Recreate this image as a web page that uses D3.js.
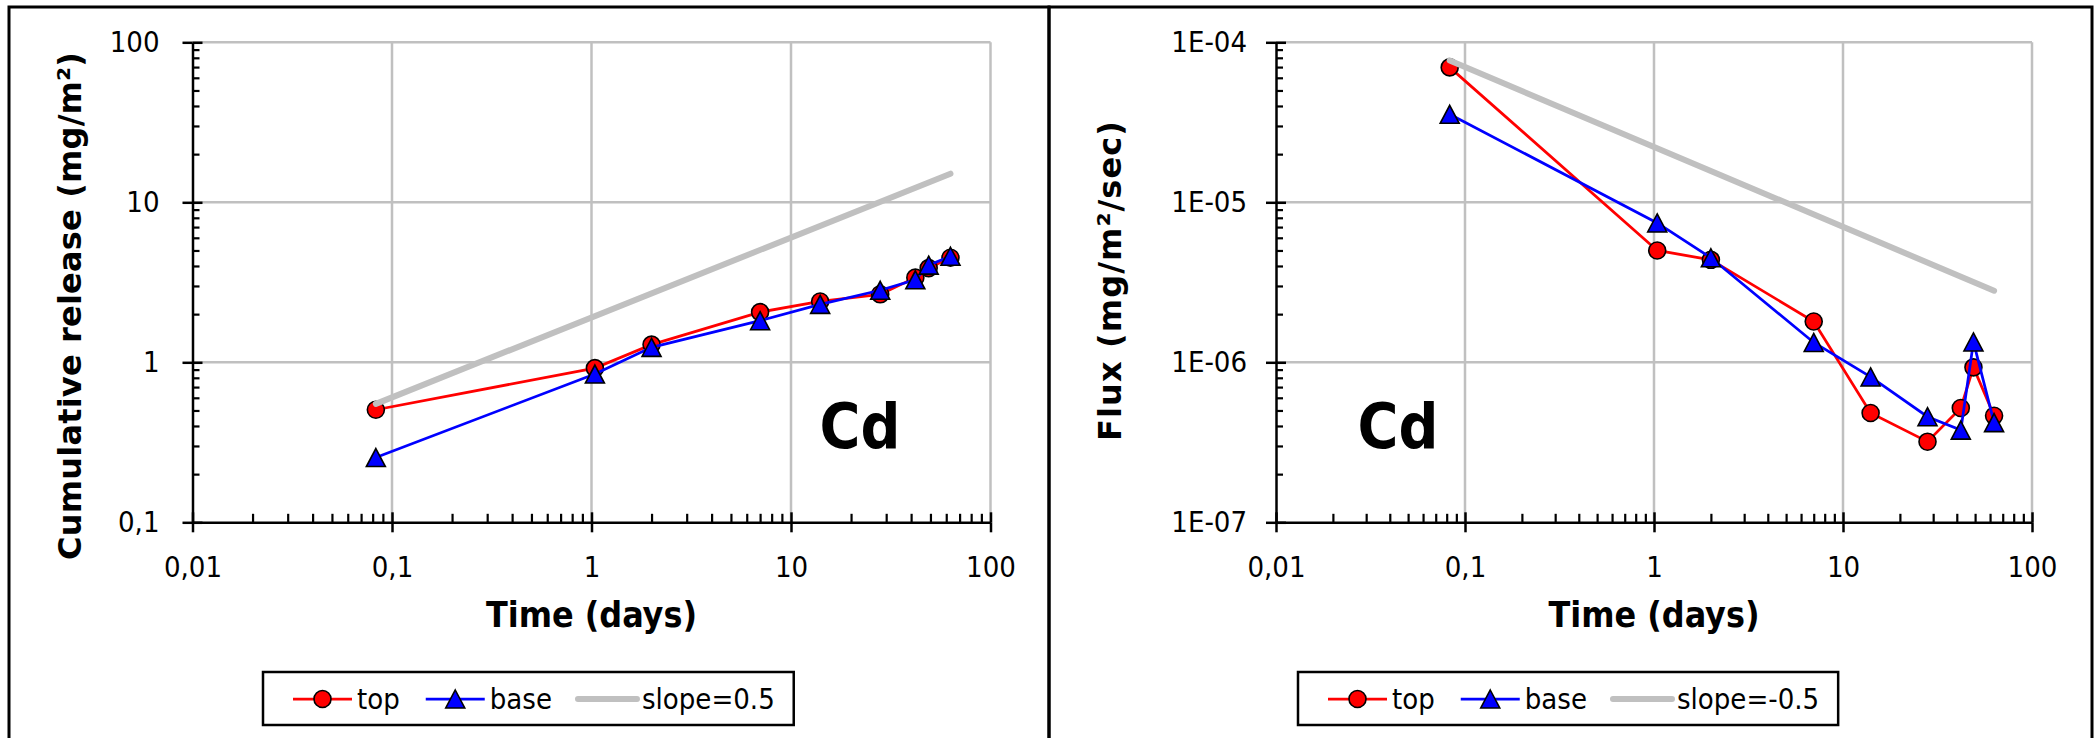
<!DOCTYPE html>
<html><head><meta charset="utf-8">
<script src="https://cdn.jsdelivr.net/npm/d3@7"></script>
<style>
html,body{margin:0;padding:0;background:#fff;overflow:hidden}
svg{display:block}
.cond{font-family:'DejaVu Sans Condensed','DejaVu Sans',sans-serif;font-stretch:condensed}
.wide{font-family:'DejaVu Sans',Verdana,sans-serif}
</style></head><body>
<svg id="chart" width="2098" height="738"></svg>
<script>
// ---------------- data ----------------
const days = [0.083, 1.04, 2, 7, 14, 28, 42, 49, 63];
const cumTop = [0.505, 0.92, 1.29, 2.06, 2.40, 2.66, 3.38, 3.88, 4.50];
const cumBase = [0.254, 0.845, 1.24, 1.82, 2.30, 2.82, 3.28, 4.05, 4.60];
const slopeDays = [0.083, 63];
const cumSlope = [0.55, 15.1];
const fluxTop = [6.97e-5, 5.0e-6, 4.37e-6, 1.80e-6, 4.82e-7, 3.19e-7, 5.18e-7, 9.3e-7, 4.63e-7];
const fluxBase = [3.55e-5, 7.43e-6, 4.5e-6, 1.33e-6, 8.1e-7, 4.57e-7, 3.77e-7, 1.34e-6, 4.2e-7];
const fluxSlope = [7.7e-5, 2.8e-6];
const xTickValues = [0.01, 0.1, 1, 10, 100];
const xTickLabels = ["0,01", "0,1", "1", "10", "100"];
const cumTickValues = [0.1, 1, 10, 100];
const cumTickLabels = ["0,1", "1", "10", "100"];
const fluxTickValues = [1e-7, 1e-6, 1e-5, 1e-4];
const fluxTickLabels = ["1E-07", "1E-06", "1E-05", "1E-04"];
const seriesNames = ["top", "base"];
const cumSlopeName = "slope=0.5";
const fluxSlopeName = "slope=-0.5";
const elementLabel = "Cd";
const xTitle = "Time (days)";
const cumTitle = "Cumulative release (mg/m\u00b2)";
const fluxTitle = "Flux (mg/m\u00b2/sec)";

// ---------------- drawing ----------------
const svg = d3.select("#chart");
svg.append("rect").attr("width", 2098).attr("height", 738).attr("fill", "#fff");

// panel borders
svg.append("rect").attr("x", 9).attr("y", 7).attr("width", 1040).attr("height", 780)
  .attr("fill", "none").attr("stroke", "#000").attr("stroke-width", 3);
svg.append("rect").attr("x", 1049).attr("y", 7).attr("width", 1043).attr("height", 780)
  .attr("fill", "none").attr("stroke", "#000").attr("stroke-width", 3);

function minorTicks(dom) {
  const out = [];
  const lo = Math.round(Math.log10(dom[0])), hi = Math.round(Math.log10(dom[1]));
  for (let e = lo; e < hi; e++) for (let k = 2; k <= 9; k++) out.push(k * Math.pow(10, e));
  return out;
}

function triPath(w, h) {
  return `M0,${-h / 2}L${w / 2},${h / 2}L${-w / 2},${h / 2}Z`;
}

function drawPanel(p) {
  const g = svg.append("g");
  const x = d3.scaleLog().domain([xTickValues[0], xTickValues[xTickValues.length - 1]]).range([p.x0, p.x1]);
  const y = d3.scaleLog().domain([p.yTicks[0], p.yTicks[p.yTicks.length - 1]]).range([p.y1, p.y0]);

  // gridlines
  g.append("g").selectAll("line").data(xTickValues.slice(1)).join("line")
    .attr("x1", d => x(d)).attr("x2", d => x(d)).attr("y1", p.y0).attr("y2", p.y1)
    .attr("stroke", "#c0c0c0").attr("stroke-width", 2.5);
  g.append("g").selectAll("line").data(p.yTicks.slice(1)).join("line")
    .attr("y1", d => y(d)).attr("y2", d => y(d)).attr("x1", p.x0).attr("x2", p.x1)
    .attr("stroke", "#c0c0c0").attr("stroke-width", 2.5);

  const styleAxis = (sel, sw) => {
    sel.selectAll("line").attr("stroke", "#000").attr("stroke-width", sw);
    sel.selectAll("path.domain").attr("stroke", "#000").attr("stroke-width", 2.5);
  };

  // y axis
  const yMajor = g.append("g").attr("transform", `translate(${p.x0},0)`)
    .call(d3.axisLeft(y).tickValues(p.yTicks).tickFormat((d, i) => p.yLabels[i])
      .tickSize(10).tickSizeOuter(0).tickPadding(p.yPad));
  styleAxis(yMajor, 2.5);
  yMajor.selectAll("text").attr("class", "cond").style("font-size", "29px").attr("fill", "#000");
  const yIn = g.append("g").attr("transform", `translate(${p.x0},0)`)
    .call(d3.axisRight(y).tickValues(p.yTicks).tickFormat("").tickSize(10).tickSizeOuter(0));
  yIn.select(".domain").remove(); styleAxis(yIn, 2.5);
  const yMin = g.append("g").attr("transform", `translate(${p.x0},0)`)
    .call(d3.axisRight(y).tickValues(minorTicks(y.domain())).tickFormat("").tickSize(7).tickSizeOuter(0));
  yMin.select(".domain").remove(); styleAxis(yMin, 2.2);

  // x axis
  const xMajor = g.append("g").attr("transform", `translate(0,${p.y1})`)
    .call(d3.axisBottom(x).tickValues(xTickValues).tickFormat((d, i) => xTickLabels[i])
      .tickSize(10).tickSizeOuter(0).tickPadding(24));
  styleAxis(xMajor, 2.5);
  xMajor.selectAll("text").attr("class", "cond").style("font-size", "29px").attr("fill", "#000");
  const xIn = g.append("g").attr("transform", `translate(0,${p.y1})`)
    .call(d3.axisTop(x).tickValues(xTickValues).tickFormat("").tickSize(10).tickSizeOuter(0));
  xIn.select(".domain").remove(); styleAxis(xIn, 2.5);
  const xMin = g.append("g").attr("transform", `translate(0,${p.y1})`)
    .call(d3.axisTop(x).tickValues(minorTicks(x.domain())).tickFormat("").tickSize(8.5).tickSizeOuter(0));
  xMin.select(".domain").remove(); styleAxis(xMin, 2.2);

  // series
  const line = d3.line().x(d => x(d[0])).y(d => y(d[1]));
  const topPts = days.map((d, i) => [d, p.top[i]]);
  const basePts = days.map((d, i) => [d, p.base[i]]);
  g.append("path").attr("d", line(topPts)).attr("fill", "none").attr("stroke", "#ff0000").attr("stroke-width", 2.75);
  g.append("g").selectAll("circle").data(topPts).join("circle")
    .attr("cx", d => x(d[0])).attr("cy", d => y(d[1])).attr("r", 8.5)
    .attr("fill", "#ff0000").attr("stroke", "#000").attr("stroke-width", 1.6);
  g.append("path").attr("d", line(basePts)).attr("fill", "none").attr("stroke", "#0000ff").attr("stroke-width", 2.75);
  g.append("g").selectAll("path").data(basePts).join("path")
    .attr("d", triPath(19, 18)).attr("transform", d => `translate(${x(d[0])},${y(d[1])})`)
    .attr("fill", "#0000ff").attr("stroke", "#000").attr("stroke-width", 1.6).attr("stroke-linejoin", "miter");
  const slopePts = slopeDays.map((d, i) => [d, p.slope[i]]);
  g.append("path").attr("d", line(slopePts)).attr("fill", "none").attr("stroke", "#c0c0c0")
    .attr("stroke-width", 6).attr("stroke-linecap", "round");

  // element label
  g.append("text").attr("class", "cond").attr("x", p.cdX).attr("y", 448).attr("text-anchor", "middle")
    .style("font-size", "62px").style("font-weight", "bold").text(elementLabel);

  // axis titles
  g.append("text").attr("class", "cond").attr("x", (p.x0 + p.x1) / 2).attr("y", 627).attr("text-anchor", "middle")
    .style("font-size", "35.5px").style("font-weight", "bold").text(xTitle);
  const yt = g.append("text").attr("class", "wide").attr("transform", `translate(${p.ytX},${p.ytY}) rotate(-90)`)
    .attr("text-anchor", "middle").style("font-size", "32px").style("font-weight", "bold").text(p.yTitle);
  const natural = yt.node().getComputedTextLength();
  const ls = (p.ytLen - natural) / p.yTitle.length;
  yt.style("letter-spacing", ls + "px").attr("x", ls / 2);

  // legend
  const lg = g.append("g").attr("transform", `translate(${p.legX},672)`);
  const box = lg.append("rect").attr("x", 0).attr("y", 0).attr("height", 53)
    .attr("fill", "#fff").attr("stroke", "#000").attr("stroke-width", 2.5);
  let cx = 30;
  const items = [
    { name: seriesNames[0], color: "#ff0000", w: 2.75, mk: "circle" },
    { name: seriesNames[1], color: "#0000ff", w: 2.75, mk: "tri" },
    { name: p.slopeName, color: "#c0c0c0", w: 6, mk: null }
  ];
  items.forEach(it => {
    lg.append("line").attr("x1", cx).attr("x2", cx + 59).attr("y1", 27).attr("y2", 27)
      .attr("stroke", it.color).attr("stroke-width", it.w).attr("stroke-linecap", it.mk ? "butt" : "round");
    if (it.mk === "circle") lg.append("circle").attr("cx", cx + 29.5).attr("cy", 27).attr("r", 8.5)
      .attr("fill", "#ff0000").attr("stroke", "#000").attr("stroke-width", 1.6);
    if (it.mk === "tri") lg.append("path").attr("d", triPath(19, 18)).attr("transform", `translate(${cx + 29.5},27)`)
      .attr("fill", "#0000ff").attr("stroke", "#000").attr("stroke-width", 1.6);
    const t = lg.append("text").attr("class", "cond").attr("x", cx + 64).attr("y", 37)
      .style("font-size", "29px").text(it.name);
    cx = cx + 64 + t.node().getComputedTextLength() + 26;
  });
  box.attr("width", cx - 26 + 19);
}

drawPanel({
  x0: 192.5, x1: 990.5, y0: 42.3, y1: 522.3,
  yTicks: cumTickValues, yLabels: cumTickLabels, yPad: 23,
  top: cumTop, base: cumBase, slope: cumSlope, slopeName: cumSlopeName,
  cdX: 860, ytX: 81, ytY: 306, ytLen: 508, yTitle: cumTitle, legX: 263
});
drawPanel({
  x0: 1276, x1: 2032, y0: 42.3, y1: 522.3,
  yTicks: fluxTickValues, yLabels: fluxTickLabels, yPad: 19,
  top: fluxTop, base: fluxBase, slope: fluxSlope, slopeName: fluxSlopeName,
  cdX: 1398, ytX: 1121, ytY: 281, ytLen: 321, yTitle: fluxTitle, legX: 1298
});
</script>
</body></html>
